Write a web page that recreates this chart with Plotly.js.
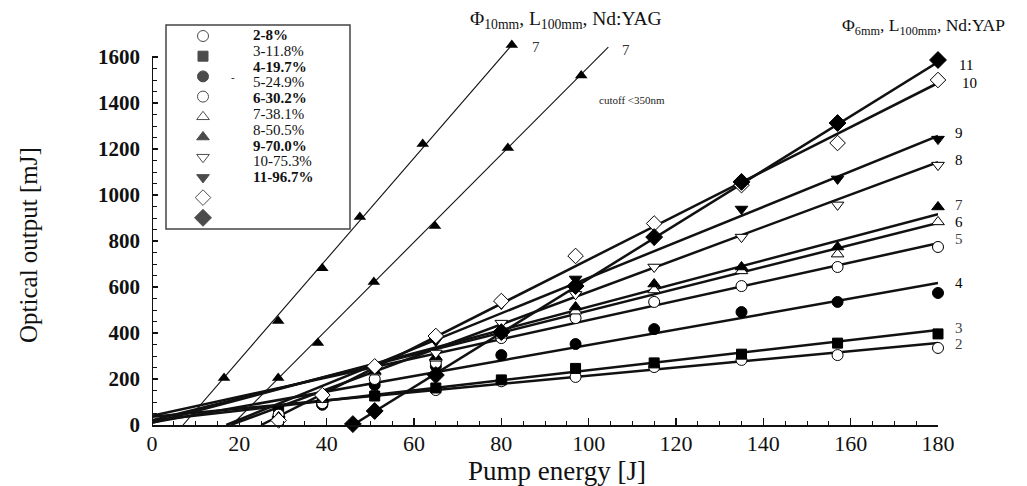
<!DOCTYPE html>
<html><head><meta charset="utf-8">
<script src="https://cdn.plot.ly/plotly-3.0.1.min.js"></script>
<style>html,body{margin:0;padding:0;background:#fff;} #chart{width:1027px;height:486px;}</style>
</head><body><div id="chart"></div>
<script>
// ---- Data ----
const pump = [29, 39, 51, 65, 80, 97, 115, 135, 157, 180];
const s2  = [28, 88, 130, 152, 190, 209, 252, 283, 304, 335];
const s3  = [57, 100, 126, 161, 196, 246, 270, 308, 356, 396];
const s4  = [40, 90, 174, 255, 304, 352, 417, 491, 535, 574];
const s5  = [45, 95, 200, 270, 378, 465, 535, 604, 687, 774];
const s6  = [30, 110, 230, 290, 390, 495, 587, 670, 743, 883];
const s7  = [35, 115, 235, 296, 400, 513, 613, 687, 774, 948];
const s8  = [20, 120, 245, 313, 443, 568, 687, 817, 957, 1130];
const s9  = [25, 125, 250, 365, 526, 635, 805, 939, 1070, 1243];
const s10 = [20, 130, 255, 387, 539, 735, 876, 1043, 1226, 1500];
const pump11 = [46, 51, 65, 80, 97, 115, 135, 157, 180];
const s11 = [4, 61, 217, 404, 604, 817, 1057, 1313, 1587];

// linear fit lines for the YAP series (start point, end point)
const fitX0 = [0, 0, 0, 0, 0, 0, 18, 17, 25, 46];
const fitY0 = [36, 19, 11, 40, 20, 10, 0, 0, 0, 0];
const fitX1 = [180, 180, 180, 180, 180, 180, 180, 180, 180, 180];
const fitY1 = [357, 413, 617, 790, 878, 917, 1143, 1257, 1487, 1578];

// Nd:YAG 10 mm rod (two runs, both labelled 7)
const yagAx = [16.5, 28.9, 39, 47.6, 62, 82.4];
const yagAy = [204, 452, 682, 904, 1222, 1652];
const yagBx = [28.9, 38, 50.8, 64.8, 81.5, 98.3];
const yagBy = [204, 356, 622, 865, 1204, 1520];
const yagFitAx = [7.1, 82.4], yagFitAy = [0, 1652];
const yagFitBx = [18.3, 104.5], yagFitBy = [0, 1643];

const seriesIds = ['2','3','4','5','6','7','8','9','10','11'];
const legendLabels = ['2-8%','3-11.8%','4-19.7%','5-24.9%','6-30.2%','7-38.1%','8-50.5%','9-70.0%','10-75.3%','11-96.7%'];
const xTicks = [0,20,40,60,80,100,120,140,160,180];
const yTicks = [0,200,400,600,800,1000,1200,1400,1600];

// ---- Styles ----
const symbols = ['circle','square','circle','circle','triangle-up','triangle-up','triangle-down','triangle-down','diamond','diamond'];
const filled  = [false,true,true,false,false,true,false,true,false,true];
const msize   = [11,10,11,11,11,11,11,11,12,13];
const FONT = 'Liberation Serif, Times New Roman, serif';

const L=152, T=20, W=786, H=405;
function pp(x,y){return {x:(x-L)/W, y:(T+H-y)/H};}

const yapX = [pump,pump,pump,pump,pump,pump,pump,pump,pump,pump11];
const yapY = [s2,s3,s4,s5,s6,s7,s8,s9,s10,s11];

const traces = [];
for (let i=0;i<10;i++){
  traces.push({x:[fitX0[i],fitX1[i]], y:[fitY0[i],fitY1[i]], mode:'lines',
    line:{color:'#111',width:2.5}, hoverinfo:'skip'});
}
traces.push({x:yagFitAx,y:yagFitAy,mode:'lines',line:{color:'#111',width:1.1}});
traces.push({x:yagFitBx,y:yagFitBy,mode:'lines',line:{color:'#111',width:1.1}});
for (let i=0;i<10;i++){
  traces.push({x:yapX[i], y:yapY[i], mode:'markers', cliponaxis:false,
    marker:{symbol:symbols[i], size:msize[i], color: filled[i]?'#000':'#fff',
            line:{color:'#000',width:1}}});
}
traces.push({x:yagAx,y:yagAy,mode:'markers',cliponaxis:false,marker:{symbol:'triangle-up',size:11,color:'#000'}});
traces.push({x:yagBx,y:yagBy,mode:'markers',cliponaxis:false,marker:{symbol:'triangle-up',size:11,color:'#000'}});

// legend symbols on a pixel-space overlay axis
const legX = [], legY = [];
for (let i=0;i<10;i++){ legX.push(203); legY.push(36 + i*20.2); }
traces.push({x:legX, y:legY, xaxis:'x2', yaxis:'y2', mode:'markers', cliponaxis:false,
  marker:{symbol:symbols, size:msize, color:filled.map(f=>f?'#000':'#fff'), line:{color:'#000',width:1}}});

const annotations = [];
function ann(px,py,text,opts){
  const p = pp(px,py);
  annotations.push(Object.assign({xref:'paper',yref:'paper',x:p.x,y:p.y,text:text,showarrow:false,
    xanchor:'center',yanchor:'middle',font:{family:FONT,size:15,color:'#111'}},opts||{}));
}
const legBold = [true,false,true,false,true,false,false,true,false,true];
for (let i=0;i<10;i++){
  ann(251, 35 + i*15.8, legBold[i]?'<b>'+legendLabels[i]+'</b>':legendLabels[i],
      {xanchor:'left', font:{family:FONT,size:15,color:'#111'}});
}
ann(233, 77, '-', {font:{family:FONT,size:11,color:'#111'}});
const lblPos = [[959,344],[959,328],[959,283],[959,239],[959,222],[959,205],[959,160],[959,133],[970,83],[966,65]];
const lblColor = ['#444','#444','#000','#444','#000','#333','#000','#000','#000','#000'];
for (let i=0;i<10;i++){
  ann(lblPos[i][0], lblPos[i][1], seriesIds[i], {font:{family:FONT,size:15,color:lblColor[i]}});
}
ann(536, 47, '7', {font:{family:FONT,size:15,color:'#333'}});
ann(626, 50, '7', {font:{family:FONT,size:15,color:'#333'}});
ann(632, 100, 'cutoff &lt;350nm', {font:{family:FONT,size:11,color:'#222'}});
ann(566, 20, 'Φ<sub>10mm</sub>, L<sub>100mm</sub>, Nd:YAG', {font:{family:FONT,size:19.5,color:'#111'}});
ann(923, 26, 'Φ<sub>6mm</sub>, L<sub>100mm</sub>, Nd:YAP', {font:{family:FONT,size:17.5,color:'#111'}});
ann(557, 471, 'Pump energy [J]', {font:{family:FONT,size:27,color:'#111'}});
ann(28, 245, 'Optical output [mJ]', {textangle:-90, font:{family:FONT,size:25,color:'#111'}});

const legTL = pp(166,25), legBR = pp(350,229);
const yTop = 1600;
const shapes = [
  {type:'rect', xref:'paper', yref:'paper', x0:legTL.x, y0:legTL.y, x1:legBR.x, y1:legBR.y,
   line:{color:'#444',width:1.5}, fillcolor:'rgba(255,255,255,1)', layer:'below'},
  {type:'line', xref:'x', yref:'y', x0:0, x1:0, y0:0, y1:yTop, line:{color:'#111',width:2}}
];

const minorY = []; for (let v=50; v<1600; v+=50) minorY.push(v);

const layout = {
  width:1027, height:486, margin:{l:L, r:1027-L-W, t:T, b:486-T-H},
  paper_bgcolor:'#fff', plot_bgcolor:'rgba(0,0,0,0)', showlegend:false, hovermode:false,
  xaxis:{range:[0,180], showgrid:false, zeroline:false, showline:true, linecolor:'#111', linewidth:2,
    ticks:'inside', ticklen:7, tickwidth:1.3, tickcolor:'#111', tickmode:'array', tickvals:xTicks,
    ticktext:xTicks.map(String), ticklabelstandoff:-2,
    minor:{ticks:'inside', ticklen:4, tickwidth:1, tickcolor:'#111', tickmode:'linear', tick0:0, dtick:5},
    tickfont:{family:FONT,size:22,color:'#111'}},
  yaxis:{range:[0,1760.87], showgrid:false, zeroline:false, showline:false,
    ticks:'inside', ticklen:6, tickwidth:1.3, tickcolor:'#111', tickmode:'array', tickvals:yTicks,
    ticktext:yTicks.map(String), ticklabelstandoff:11,
    minor:{ticks:'inside', ticklen:5, tickwidth:1, tickcolor:'#111', tickmode:'array', tickvals:minorY},
    tickfont:{family:FONT,size:21,color:'#111',weight:'bold'}},
  xaxis2:{overlaying:'x', range:[L, L+W], visible:false},
  yaxis2:{overlaying:'y', range:[T+H, T], visible:false},
  shapes:shapes, annotations:annotations
};
Plotly.newPlot('chart', traces, layout, {staticPlot:true, displayModeBar:false});
</script>
</body></html>
